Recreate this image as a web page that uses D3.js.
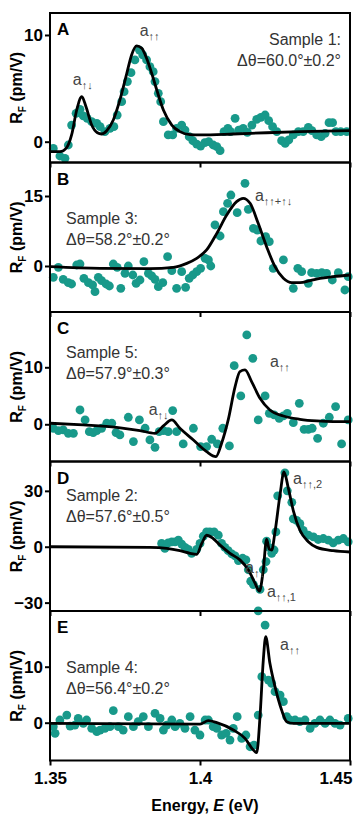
<!DOCTYPE html>
<html>
<head>
<meta charset="utf-8">
<script src="https://cdn.jsdelivr.net/npm/d3@7"></script>
<style>
  body { margin: 0; background: #fff; }
  svg { display: block; font-family: "Liberation Sans", Arial, sans-serif; }
</style>
</head>
<body>
<div id="chart"></div>
<script>
// energy axis
var xTicks = [1.35, 1.4, 1.45];
var xTickLabels = ["1.35", "1.4", "1.45"];

// panel A (sample 1)
var eA = [1.3511,1.3533,1.3550,1.3561,1.3572,1.3587,1.3600,1.3611,1.3624,1.3639,1.3656,1.3667,1.3683,1.3700,1.3713,1.3724,1.3739,1.3747,1.3758,1.3770,1.3783,1.3798,1.3809,1.3822,1.3833,1.3844,1.3850,1.3861,1.3869,1.3878,1.3894,1.3909,1.3922,1.3939,1.3950,1.3964,1.3976,1.3989,1.4002,1.4016,1.4029,1.4044,1.4056,1.4067,1.4080,1.4093,1.4102,1.4117,1.4129,1.4144,1.4158,1.4173,1.4189,1.4203,1.4217,1.4229,1.4242,1.4256,1.4272,1.4284,1.4296,1.4311,1.4328,1.4344,1.4361,1.4373,1.4389,1.4404,1.4417,1.4430,1.4442,1.4453,1.4469,1.4489];
var rA = [-0.63,-1.34,-1.56,-0.31,1.56,2.66,3.03,2.41,2.19,1.88,1.72,1.41,0.94,1.25,1.41,2.5,3.75,4.69,5.63,6.47,7.66,8.59,8.13,7.66,7.03,6.56,5.63,4.53,3.75,1.88,0.63,0.63,1.25,1.56,1.09,0.47,0.09,-0.22,-0.41,-0.09,0,-0.31,-0.47,-0.84,0.94,1.25,0.94,2.19,1.09,1.25,0.88,1.56,2.09,2.28,2.5,1.97,1.41,0.94,0.09,-0.16,0.16,0.63,0.94,0.94,1.34,1.03,0.63,0.47,0.78,1.78,1.78,0.94,0.94,0.94];
var fitEA = [1.3500,1.3533,1.3556,1.3572,1.3589,1.3606,1.3620,1.3639,1.3658,1.3672,1.3689,1.3711,1.3733,1.3756,1.3772,1.3789,1.3806,1.3822,1.3839,1.3856,1.3878,1.3906,1.3933,1.3967,1.4000,1.4111,1.4222,1.4333,1.4500];
var fitRA = [-0.94,-0.94,-0.53,0.63,2.97,4.22,3.28,1.56,0.84,0.72,1.03,2.03,3.91,6.41,8.13,8.97,8.75,7.81,6.41,4.84,2.97,1.56,0.94,0.66,0.63,0.72,0.84,0.94,1.03];

// panel B (sample 3)
var eB = [1.3511,1.3528,1.3544,1.3561,1.3572,1.3589,1.3600,1.3613,1.3628,1.3642,1.3650,1.3661,1.3672,1.3687,1.3698,1.3711,1.3724,1.3736,1.3750,1.3761,1.3776,1.3787,1.3800,1.3813,1.3828,1.3839,1.3850,1.3861,1.3876,1.3892,1.3906,1.3922,1.3939,1.3952,1.3964,1.3976,1.3989,1.4002,1.4017,1.4028,1.4036,1.4050,1.4067,1.4078,1.4092,1.4103,1.4124,1.4150,1.4161,1.4178,1.4191,1.4203,1.4219,1.4231,1.4244,1.4278,1.4311,1.4326,1.4339,1.4361,1.4372,1.4389,1.4406,1.4422,1.4441,1.4461,1.4483,1.4494];
var rB = [-2.43,-0.29,-2.86,-3.57,-3.86,0.21,0.43,-2.64,-3.57,-4.07,-5.5,-2.43,-3.14,-3.86,-4.29,0.43,-0.29,-4.79,-1.57,0,-1.93,-3.71,-3.0,0.93,-1.57,-2.14,-2.86,-4.43,-3.57,2.0,-1.0,-4.79,-1.21,-4.57,-2.64,-1.93,-1.21,-0.5,1.64,1.29,0,8.79,6.43,11.64,13.43,15.21,11.43,17.71,12.14,8.07,7.71,5.36,6.29,5.21,-0.5,1.29,-4.79,-0.5,-1.21,-3.71,-1.43,-1.57,-1.43,-1.57,-3.0,-1.43,-5.14,-2.29];
var fitEB = [1.3500,1.3667,1.3833,1.3911,1.3956,1.3989,1.4022,1.4056,1.4089,1.4122,1.4144,1.4167,1.4194,1.4222,1.4250,1.4278,1.4306,1.4333,1.4367,1.4400,1.4444,1.4500];
var fitRB = [-0.14,-0.5,-0.57,-0.29,0.57,1.64,3.43,7.0,10.93,13.79,14.5,13.43,9.14,4.14,-0.14,-2.64,-3.57,-3.57,-3.14,-2.64,-2.29,-1.93];

// panel C (sample 5)
var eC = [1.3511,1.3528,1.3544,1.3561,1.3578,1.3600,1.3617,1.3631,1.3644,1.3656,1.3672,1.3689,1.3706,1.3720,1.3733,1.3761,1.3778,1.3798,1.3817,1.3833,1.3850,1.3864,1.3878,1.3894,1.3909,1.3922,1.3944,1.3978,1.4002,1.4022,1.4039,1.4058,1.4076,1.4098,1.4114,1.4136,1.4156,1.4176,1.4194,1.4217,1.4231,1.4247,1.4264,1.4278,1.4291,1.4311,1.4331,1.4347,1.4361,1.4374,1.4392,1.4411,1.4431,1.4452,1.4472,1.4494];
var rC = [-0.70,-1.11,-0.99,-1.58,-1.58,2.51,0.76,-1.29,-1.46,-1.11,-0.70,0.18,0.18,-1.46,-1.87,1.23,-3.04,0.76,-0.70,-2.75,-4.04,-1.29,-1.11,-1.29,2.40,-1.29,-3.45,-0.70,-3.92,-3.92,-2.63,-3.45,-0.70,-3.80,10.29,4.97,15.67,11.58,0.76,4.97,1.93,1.64,1.05,1.46,1.93,0.29,3.68,-0.88,-0.88,-0.70,-2.46,0.18,1.23,3.10,-3.45,0.76];
var fitEC = [1.3500,1.3611,1.3722,1.3800,1.3850,1.3878,1.3906,1.3933,1.3978,1.4022,1.4053,1.4072,1.4094,1.4117,1.4133,1.4150,1.4172,1.4200,1.4233,1.4278,1.4333,1.4389,1.4444,1.4500];
var fitRC = [0.18,-0.12,-0.53,-1.11,-1.58,-0.29,0.76,-0.70,-2.75,-4.80,-5.67,-3.33,0.76,6.61,9.24,9.53,7.49,4.56,2.51,1.46,0.88,0.58,0.47,0.47];

// panel D (sample 2)
var eD = [1.3872,1.3883,1.3894,1.3906,1.3917,1.3928,1.3939,1.3950,1.3961,1.3972,1.3989,1.4000,1.4011,1.4022,1.4033,1.4047,1.4061,1.4072,1.4083,1.4094,1.4106,1.4117,1.4128,1.4142,1.4153,1.4161,1.4169,1.4178,1.4194,1.4200,1.4211,1.4220,1.4222,1.4230,1.4239,1.4247,1.4253,1.4259,1.4283,1.4291,1.4306,1.4311,1.4322,1.4333,1.4344,1.4361,1.4378,1.4394,1.4411,1.4428,1.4444,1.4461,1.4478,1.4494];
var rD = [1.76,-0.88,2.12,2.65,2.65,3.53,1.41,-0.35,-1.41,-3.53,-1.41,1.76,5.65,7.94,7.94,7.94,6.18,1.76,-0.35,-2.12,-3.88,-4.94,-7.41,-6.18,-7.06,-12.35,-18.53,-20.29,-34.4,-22.94,-12.35,-7.94,3.0,-0.35,-3.53,-1.76,7.94,27.35,39.7,30.0,23.82,15.0,14.12,12.35,8.82,6.18,5.29,3.88,4.41,3.53,2.12,3.53,4.41,2.65];
var fitED = [1.3500,1.3833,1.3889,1.3933,1.3967,1.3989,1.4006,1.4022,1.4044,1.4067,1.4100,1.4133,1.4161,1.4183,1.4198,1.4211,1.4222,1.4231,1.4239,1.4250,1.4267,1.4280,1.4294,1.4311,1.4333,1.4361,1.4389,1.4444,1.4500];
var fitRD = [0,-0.35,-0.88,-2.12,-3.53,-4.06,1.76,6.18,4.41,0.88,-3.53,-7.06,-12.35,-19.41,-23.82,-12.35,4.06,-1.41,-1.76,7.94,28.24,40.23,31.76,19.41,8.82,2.65,-0.35,-2.12,-2.82];

// panel E (sample 4)
var eE = [1.3511,1.3517,1.3533,1.3556,1.3567,1.3583,1.3594,1.3611,1.3622,1.3639,1.3656,1.3667,1.3683,1.3700,1.3711,1.3728,1.3744,1.3761,1.3778,1.3794,1.3811,1.3828,1.3850,1.3867,1.3878,1.3889,1.3906,1.3917,1.3933,1.3950,1.3967,1.3983,1.4000,1.4017,1.4028,1.4044,1.4056,1.4072,1.4087,1.4100,1.4111,1.4124,1.4139,1.4153,1.4167,1.4180,1.4194,1.4206,1.4217,1.4228,1.4239,1.4250,1.4267,1.4278,1.4289,1.4300,1.4317,1.4333,1.4350,1.4367,1.4383,1.4400,1.4417,1.4433,1.4450,1.4467,1.4494];
var rE = [-0.71,-1.90,0.48,1.37,-0.60,-0.42,0.77,-0.12,0.48,-1.01,-1.61,-1.31,-1.01,-0.71,2.14,-0.71,-1.31,1.07,-0.71,0.18,1.07,-0.71,1.67,0.77,-1.31,-0.42,0.48,-0.71,-0.12,-1.01,1.07,-1.31,-2.20,0.48,0.48,-0.71,-1.01,-2.20,-1.90,-3.10,-1.01,1.07,-2.80,-2.20,-4.29,-3.99,1.37,8.21,17.44,7.62,7.02,5.54,4.94,3.75,1.07,0.48,0.48,0.18,0.48,-1.01,-0.12,0.48,-0.12,0.48,-0.12,-0.42,0.77];
var fitEE = [1.3500,1.4000,1.4028,1.4056,1.4111,1.4150,1.4178,1.4189,1.4200,1.4211,1.4219,1.4233,1.4250,1.4272,1.4289,1.4311,1.4500];
var fitRE = [-0.12,-0.24,0.36,0,-1.31,-2.80,-4.88,-5.36,1.07,11.19,15.36,10.6,6.43,2.26,0.18,-0.12,-0.12];

var letters = ["A", "B", "C", "D", "E"];
var sampleNames = ["Sample 1:", "Sample 3:", "Sample 5:", "Sample 2:", "Sample 4:"];
var angles = ["Δθ=60.0°±0.2°", "Δθ=58.2°±0.2°", "Δθ=57.9°±0.3°", "Δθ=57.6°±0.5°", "Δθ=56.4°±0.2°"];
var yDomains = [[-1.95, 12.06], [-9.86, 22.18], [-6.53, 19.7], [-34.5, 45.76], [-6.75, 19.95]];
var yTicks = [[0, 10], [0, 15], [0, 10], [-30, 0, 30], [0, 10]];

var energies = [eA, eB, eC, eD, eE];
var values = [rA, rB, rC, rD, rE];
var fitE = [fitEA, fitEB, fitEC, fitED, fitEE];
var fitR = [fitRA, fitRB, fitRC, fitRD, fitRE];

// peak labels: [energy, value, main, subscript]
var peakLabels = [
  [[1.3576, 5.3, "a", "↑↓"], [1.3799, 9.9, "a", "↑↑"]],
  [[1.4183, 13.9, "a", "↑↑+↑↓"]],
  [[1.3829, 1.6, "a", "↑↓"], [1.4233, 10.0, "a", "↑↑"]],
  [[1.4150, -14.0, "a", "↑↓"], [1.4223, -27.0, "a", "↑↑,1"], [1.4310, 33.5, "a", "↑↑,2"]],
  [[1.4267, 13.0, "a", "↑↑"]]
];
var textLeft = [false, true, true, true, true];

var W = 354, H = 826;
var left = 50, right = 350;
var panelTop = 13, panelH = 149.5;
var dotColor = "#18998a";

var svg = d3.select("#chart").append("svg")
    .attr("width", W)
    .attr("height", H);

var x = d3.scaleLinear().domain([1.35, 1.45]).range([left, right]);

for (var i = 0; i < 5; i++) {
    var py = panelTop + i * panelH;
    var y = d3.scaleLinear().domain(yDomains[i]).range([py + panelH, py]);
    var g = svg.append("g");

    var pts = energies[i].map(function (e, k) { return [e, values[i][k]]; });
    g.selectAll("circle").data(pts).enter().append("circle")
        .attr("cx", function (d) { return x(d[0]); })
        .attr("cy", function (d) { return y(d[1]); })
        .attr("r", 4.4)
        .attr("fill", dotColor);

    var fit = fitE[i].map(function (e, k) { return [e, fitR[i][k]]; });
    var line = d3.line()
        .x(function (d) { return x(d[0]); })
        .y(function (d) { return y(d[1]); })
        .curve(d3.curveMonotoneX);
    g.append("path").datum(fit)
        .attr("d", line)
        .attr("fill", "none")
        .attr("stroke", "#000")
        .attr("stroke-width", 2.8)
        .attr("stroke-linejoin", "round");

    g.append("rect")
        .attr("x", left).attr("y", py)
        .attr("width", right - left).attr("height", panelH)
        .attr("fill", "none").attr("stroke", "#000").attr("stroke-width", 2);

    // y axis
    var ya = g.append("g").attr("transform", "translate(" + left + ",0)")
        .call(d3.axisLeft(y).tickValues(yTicks[i]).tickSize(5).tickPadding(2).tickFormat(d3.format("d")));
    ya.select(".domain").remove();
    ya.selectAll("line").attr("stroke-width", 2);
    ya.selectAll("text").attr("font-size", 17).attr("font-weight", "bold")
        .attr("font-family", "Liberation Sans, Arial, sans-serif").attr("fill", "#000");

    // x axis ticks, labels only under the last panel
    var xa = g.append("g").attr("transform", "translate(0," + (py + panelH) + ")")
        .call(d3.axisBottom(x).tickValues(xTicks).tickSize(5).tickPadding(6)
            .tickFormat(i === 4 ? function (d, k) { return xTickLabels[k]; } : ""));
    xa.select(".domain").remove();
    xa.selectAll("line").attr("stroke-width", 2);
    xa.selectAll("text").attr("font-size", 17).attr("font-weight", "bold")
        .attr("font-family", "Liberation Sans, Arial, sans-serif").attr("fill", "#000")
        .attr("text-anchor", function (d, k) { return k === 2 ? "end" : "middle"; })
        .attr("dx", function (d, k) { return k === 2 ? 2 : 0; });

    // y label
    var yl = g.append("text")
        .attr("transform", "translate(22," + (py + panelH / 2) + ") rotate(-90)")
        .attr("text-anchor", "middle")
        .attr("font-size", 16).attr("font-weight", "bold");
    yl.append("tspan").text("R");
    yl.append("tspan").attr("font-size", 10).attr("dy", 4).text("F");
    yl.append("tspan").attr("dy", -4).text(" (pm/V)");

    // panel letter
    g.append("text")
        .attr("x", 57).attr("y", py + 22)
        .attr("font-size", 17).attr("font-weight", "bold")
        .text(letters[i]);

    // sample text
    var tx = textLeft[i] ? 66 : 341;
    var anchor = textLeft[i] ? "start" : "end";
    var ty = py + [32, 61, 46, 39, 62][i];
    g.append("text").attr("x", tx).attr("y", ty)
        .attr("text-anchor", anchor).attr("font-size", 16).attr("fill", "#333")
        .text(sampleNames[i]);
    g.append("text").attr("x", tx).attr("y", ty + 21)
        .attr("text-anchor", anchor).attr("font-size", 16).attr("fill", "#333")
        .text(angles[i]);

    // peak labels
    peakLabels[i].forEach(function (p) {
        var t = g.append("text")
            .attr("x", x(p[0])).attr("y", y(p[1]))
            .attr("font-size", 16).attr("fill", "#444");
        t.append("tspan").text(p[2]);
        t.append("tspan").attr("font-size", 11).attr("dy", 4).text(p[3]);
    });
}

svg.append("text")
    .attr("x", 205).attr("y", 811)
    .attr("text-anchor", "middle")
    .attr("font-size", 16).attr("font-weight", "bold")
    .html('Energy, <tspan font-style="italic">E</tspan> (eV)');
</script>
</body>
</html>
